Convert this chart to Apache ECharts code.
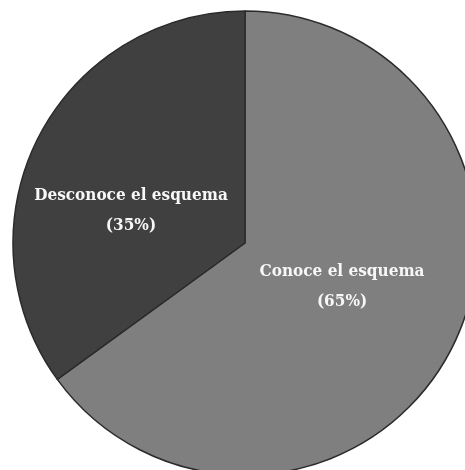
<!DOCTYPE html>
<html>
<head>
<meta charset="utf-8">
<style>html,body{margin:0;padding:0;background:#fff;}#c{width:465px;height:470px;}</style>
<script src="https://cdn.jsdelivr.net/npm/echarts@6/dist/echarts.min.js"></script>
</head>
<body>
<div id="c"></div>
<script>
var categories = ['Conoce el esquema', 'Desconoce el esquema'];
var values = [65, 35];
var colors = ['#7f7f7f', '#404040'];
var labelOffsets = [[-9, -10], [-8, 22]];

var chart = echarts.init(document.getElementById('c'));
chart.setOption({
  animation: false,
  series: [{
    type: 'pie',
    center: [245, 243],
    radius: 232,
    startAngle: 90,
    clockwise: true,
    data: categories.map(function (c, i) {
      return {
        name: c, value: values[i],
        itemStyle: { color: colors[i] },
        label: { offset: labelOffsets[i] }
      };
    }),
    itemStyle: { borderColor: '#2b2b2b', borderWidth: 1.5 },
    label: {
      show: true,
      position: 'inner',
      formatter: function (p) { return p.name + '\n(' + p.value + '%)'; },
      color: '#f7f7f7',
      fontFamily: '"DejaVu Serif Condensed", "DejaVu Serif", serif',
      fontWeight: 'bold',
      fontSize: 17,
      lineHeight: 30,
      align: 'center'
    },
    labelLine: { show: false },
    emphasis: { disabled: true }
  }]
});
</script>
</body>
</html>
